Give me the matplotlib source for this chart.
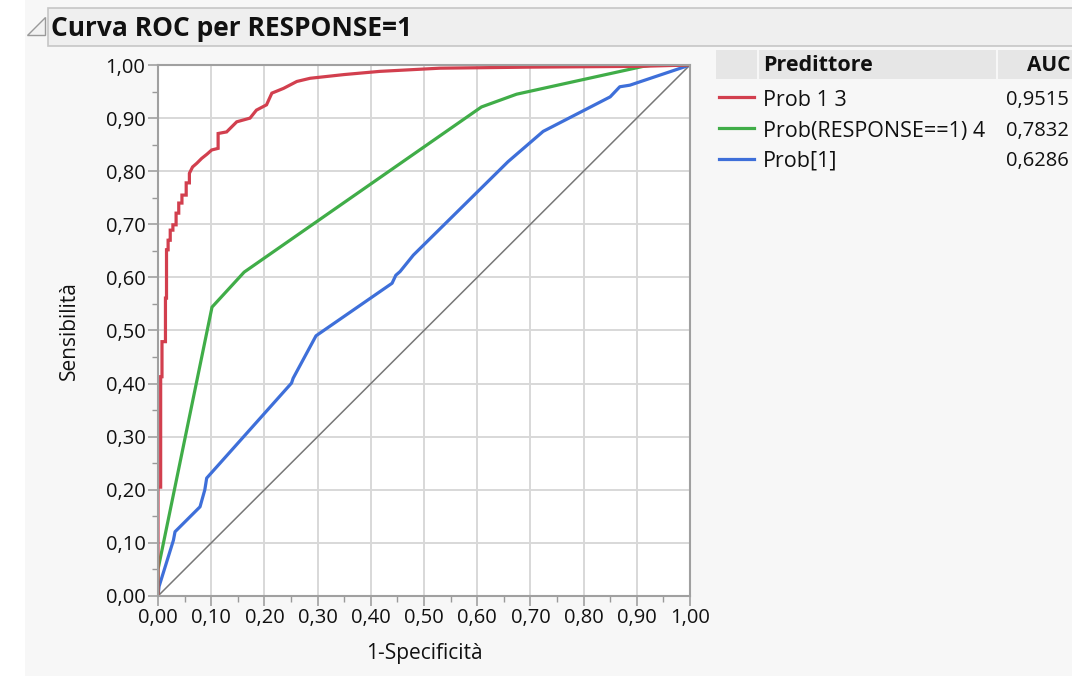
import matplotlib
matplotlib.use("Agg")
import matplotlib.pyplot as plt
from matplotlib.patches import Rectangle, Polygon
from matplotlib.ticker import MultipleLocator, FuncFormatter

plt.rcParams['font.family'] = ['Open Sans', 'DejaVu Sans']

# ---------------- data ----------------
title = "Curva ROC per RESPONSE=1"
x_label = "1-Specificità"
y_label = "Sensibilità"
table_header = ["Predittore", "AUC"]
series_names = ["Prob 1 3", "Prob(RESPONSE==1) 4", "Prob[1]"]
series_auc = ["0,9515", "0,7832", "0,6286"]
series_colors = ["#d23f4e", "#40ad48", "#3e6fd9"]

red_x = [0, 0, 0.005, 0.005, 0.0075, 0.0075, 0.014, 0.014, 0.016, 0.016, 0.019, 0.019,
         0.023, 0.023, 0.028, 0.028, 0.034, 0.034, 0.039, 0.039, 0.045, 0.045, 0.053, 0.053,
         0.059, 0.059, 0.065, 0.073, 0.082, 0.092, 0.101, 0.113, 0.113, 0.129, 0.148, 0.173,
         0.185, 0.204, 0.214, 0.236, 0.261, 0.286, 0.35, 0.417, 0.53, 0.70, 0.906, 1.0]
red_y = [0, 0.205, 0.205, 0.413, 0.413, 0.479, 0.479, 0.561, 0.561, 0.652, 0.652, 0.670,
         0.670, 0.689, 0.689, 0.699, 0.699, 0.721, 0.721, 0.740, 0.740, 0.755, 0.755, 0.778,
         0.778, 0.796, 0.808, 0.815, 0.824, 0.832, 0.840, 0.843, 0.871, 0.874, 0.893, 0.900,
         0.915, 0.925, 0.947, 0.956, 0.969, 0.975, 0.982, 0.988, 0.994, 0.996, 0.9975, 1.0]

green_x = [0, 0, 0.1015, 0.162, 0.608, 0.674, 0.91, 0.93, 1.0]
green_y = [0, 0.05, 0.544, 0.610, 0.921, 0.945, 0.997, 1.0, 1.0]

blue_x = [0, 0.002, 0.029, 0.032, 0.079, 0.088, 0.0915, 0.251, 0.254, 0.297, 0.44, 0.447,
          0.455, 0.48, 0.658, 0.724, 0.85, 0.868, 0.887, 1.0]
blue_y = [0, 0.018, 0.105, 0.121, 0.168, 0.2, 0.222, 0.401, 0.41, 0.49, 0.589, 0.604,
          0.611, 0.642, 0.818, 0.875, 0.94, 0.959, 0.962, 1.0]

diag_x = [0, 1]
diag_y = [0, 1]

# ---------------- figure ----------------
W, H = 1072, 676
fig = plt.figure(figsize=(W / 100, H / 100), dpi=100)
fig.patch.set_facecolor("white")

def fx(px):
    return px / W

def fy(py):
    return 1 - py / H

# panel background
fig.patches.append(Rectangle((fx(25), 0), 1 - fx(25), 1, transform=fig.transFigure,
                             facecolor="#f7f7f7", edgecolor="none", zorder=-10))
# title bar
fig.patches.append(Rectangle((fx(48), fy(46)), 1 - fx(48) + 0.01, fy(8) - fy(46),
                             transform=fig.transFigure, facecolor="#efefef",
                             edgecolor="#c6c6c6", linewidth=1.2, zorder=-5))
fig.patches.append(Polygon([(fx(27), fy(35)), (fx(45), fy(35)), (fx(45), fy(17))],
                           closed=True, transform=fig.transFigure, facecolor="#f2f2f2",
                           edgecolor="#9a9a9a", linewidth=1.0, zorder=-5))
fig.text(fx(51), fy(28), title, fontsize=19, fontweight="bold", va="center", ha="left",
         color="#111111")

# axes
ax = fig.add_axes([fx(158), fy(596), fx(690) - fx(158), fy(65) - fy(596)])
ax.set_facecolor("white")
ax.set_xlim(0, 1)
ax.set_ylim(0, 1)

ax.plot(diag_x, diag_y, color="#777777", linewidth=1.1, zorder=2)
ax.plot(blue_x, blue_y, color=series_colors[2], linewidth=2.3, zorder=3,
        solid_joinstyle="round")
ax.plot(green_x, green_y, color=series_colors[1], linewidth=2.3, zorder=4,
        solid_joinstyle="round")
ax.plot(red_x, red_y, color=series_colors[0], linewidth=2.3, zorder=5,
        solid_joinstyle="miter")

ax.xaxis.set_major_locator(MultipleLocator(0.1))
ax.yaxis.set_major_locator(MultipleLocator(0.1))
ax.xaxis.set_minor_locator(MultipleLocator(0.05))
ax.yaxis.set_minor_locator(MultipleLocator(0.05))
fmt = FuncFormatter(lambda v, p: f"{v:.2f}".replace(".", ","))
ax.xaxis.set_major_formatter(fmt)
ax.yaxis.set_major_formatter(fmt)
ax.grid(True, which="major", color="#d8d8d8", linewidth=1.4, zorder=1)
ax.set_axisbelow(True)
ax.tick_params(which="major", length=7, width=1.1, color="#999999", labelsize=14.5,
               labelcolor="#111111", pad=2)
ax.tick_params(which="minor", length=4, width=1.0, color="#999999")
for s in ax.spines.values():
    s.set_color("#a0a0a0")
    s.set_linewidth(1.5)
    s.set_zorder(6)

ax.set_xlabel(x_label, fontsize=15, color="#111111")
ax.set_ylabel(y_label, fontsize=15, color="#111111")
ax.xaxis.set_label_coords(0.5, (596 - 643) / 531)
ax.yaxis.set_label_coords((80 - 158) / 532, 0.5)

# legend table
hdr_top, hdr_bot = 50, 79
for (x0, x1) in [(716, 757), (759, 996), (998, 1080)]:
    fig.patches.append(Rectangle((fx(x0), fy(hdr_bot)), fx(x1) - fx(x0), fy(hdr_top) - fy(hdr_bot),
                                 transform=fig.transFigure, facecolor="#e6e6e6",
                                 edgecolor="none", zorder=-5))
hy = (hdr_top + hdr_bot) / 2 + 1
fig.text(fx(763), fy(hy), table_header[0], fontsize=15.5, fontweight="bold",
         va="center", ha="left", color="#111111")
fig.text(fx(1027), fy(hy), table_header[1], fontsize=15, fontweight="bold",
         va="center", ha="left", color="#111111")

row_y = [100, 131, 161]
line_y = [97, 128, 159]
for name, auc, col, ry, ly in zip(series_names, series_auc, series_colors, row_y, line_y):
    fig.add_artist(plt.Line2D([fx(719), fx(754)], [fy(ly), fy(ly)],
                              transform=fig.transFigure, color=col, linewidth=2.3))
    fig.text(fx(763), fy(ry), name, fontsize=15.5, va="center", ha="left", color="#111111")
    fig.text(fx(1006), fy(ry), auc, fontsize=14.5, va="center", ha="left", color="#111111")

fig.savefig("out.png", dpi=100)
